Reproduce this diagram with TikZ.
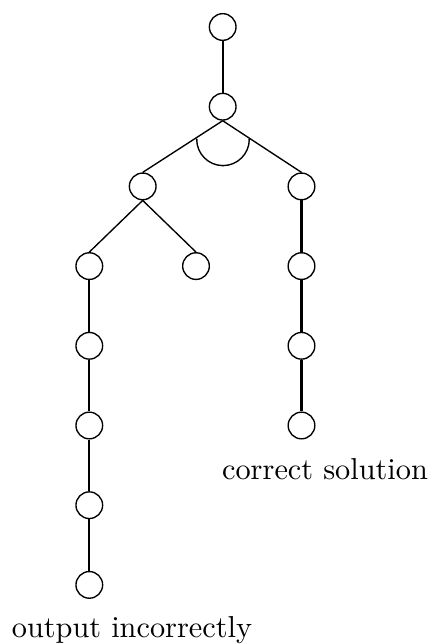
\documentclass[tikz,border=0pt]{standalone}
\begin{document}
\begin{tikzpicture}[x=0.33pt,y=0.33pt,
  state/.style={circle,draw,line width=0.45pt,minimum size=8.8pt,inner sep=0pt},
  branch/.style={line width=0.45pt},
  chain/.style={line width=0.75pt},
  tag/.style={inner sep=0pt,anchor=base}]
\useasboundingbox (0,0) rectangle (434,644);
% search tree
\node[state] (r)  at (222.7,617) {};
\node[state] (a)  at (222.7,537.3) {};
\node[state] (b)  at (142.7,457.6) {};
\node[state] (c)  at (301.5,457.6) {};
\node[state] (b1) at (89.3,377.9) {};
\node[state] (b2) at (196,377.9) {};
\node[state] (b3) at (89.3,298.2) {};
\node[state] (b4) at (89.3,218.5) {};
\node[state] (b5) at (89.3,138.8) {};
\node[state] (b6) at (89.3,59.1) {};
\node[state] (c1) at (301.5,377.9) {};
\node[state] (c2) at (301.5,298.2) {};
\node[state] (c3) at (301.5,218.5) {};
% edges
\draw[chain] (r.south) -- (a.north);
\draw[branch] (a.south) -- (b.north);
\draw[branch] (a.south) -- (c.north);
\draw[branch] (b.south) -- (b1.north);
\draw[branch] (b.south) -- (b2.north);
\draw[chain] (b1.south) -- (b3.north);
\draw[chain] (b3.south) -- (b4.north);
\draw[chain] (b4.south) -- (b5.north);
\draw[chain] (b5.south) -- (b6.north);
\draw[chain] (c.south) -- (c1.north);
\draw[chain] (c1.south) -- (c2.north);
\draw[chain] (c2.south) -- (c3.north);
% AND arc under the split
\coordinate (arcL) at (196.7,504.7);
\coordinate (arcR) at (249.3,504.7);
\coordinate (arcB) at (223,478.4);
\draw[branch] (arcL) arc[start angle=180,end angle=360,radius=8.68pt];
\foreach \p in {arcL,arcR,arcB} \fill (\p) circle[radius=0.3pt];
% labels
\node[tag] (ok)  at (325,164) {correct solution};
\node[tag] (bad) at (132,6) {output incorrectly};
\end{tikzpicture}
\end{document}
